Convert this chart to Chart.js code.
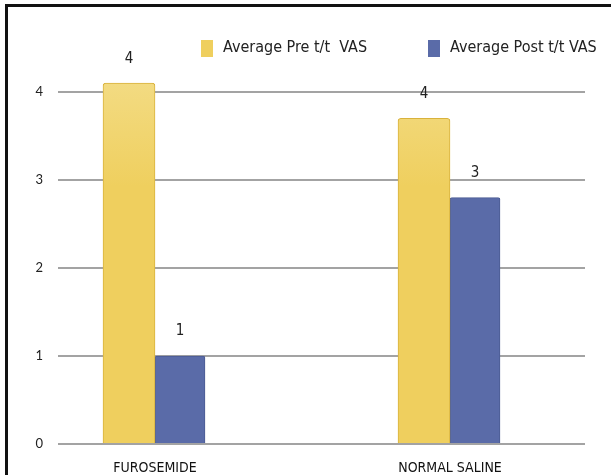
<!DOCTYPE html>
<html>
<head>
<meta charset="utf-8">
<script src="https://cdn.jsdelivr.net/npm/chart.js@4.4.1/dist/chart.umd.min.js"></script>
<style>
  html, body { margin: 0; padding: 0; background: #fff; }
  #wrap { position: relative; width: 611px; height: 475px; }
  #frame { position: absolute; left: 5px; top: 4px; right: 0; bottom: 0;
           border-top: 3px solid #111; border-left: 3px solid #111; pointer-events: none; }
  canvas { position: absolute; left: 0; top: 0; }
</style>
</head>
<body>
<div id="wrap">
  <canvas id="chart" width="611" height="475"></canvas>
  <div id="frame"></div>
</div>
<script>
// Treatment groups and their positions on the x axis
const groups = ['FUROSEMIDE', 'NORMAL SALINE'];
const groupPos = [1, 2];

// Average VAS scores before and after treatment
const preVas = [4.1, 3.7];
const postVas = [1.0, 2.8];

// Value axis ticks
const yTicks = [0, 1, 2, 3, 4];

const seriesNames = ['Average Pre t/t  VAS', 'Average Post t/t VAS'];
const seriesColors = ['#EFCF5E', '#5A6BA8'];
const seriesTops = ['#F4DF8E', '#7887BC'];
const seriesBorders = ['#D9B23C', '#4A5A92'];

const FONT = 'Lato, "Open Sans", sans-serif';
const NARROW = '"Liberation Sans Narrow", "DejaVu Sans Condensed", Lato, sans-serif';

// Light-to-deep vertical fill for the bars
function barFill(i) {
  return ctx => {
    const area = ctx.chart.chartArea;
    if (!area) return seriesColors[i];
    const g = ctx.chart.ctx.createLinearGradient(0, area.top, 0, area.bottom);
    g.addColorStop(0, seriesTops[i]);
    g.addColorStop(0.35, seriesColors[i]);
    g.addColorStop(1, seriesColors[i]);
    return g;
  };
}

// Legend strip drawn across the top
const topLegend = {
  id: 'topLegend',
  afterDraw(chart) {
    const ctx = chart.ctx;
    const boxX = [201, 428];
    ctx.save();
    chart.data.datasets.forEach((ds, i) => {
      ctx.fillStyle = seriesColors[i];
      ctx.fillRect(boxX[i], 40, 12, 17);
      ctx.fillStyle = '#222';
      ctx.font = '16px ' + NARROW;
      ctx.textBaseline = 'middle';
      ctx.textAlign = 'left';
      ctx.fillText(ds.label, boxX[i] + 22, 48);
    });
    ctx.restore();
  }
};

// Rounded value printed above each bar
const barValues = {
  id: 'barValues',
  afterDatasetsDraw(chart) {
    const ctx = chart.ctx;
    ctx.save();
    ctx.font = '15px ' + NARROW;
    ctx.fillStyle = '#222';
    ctx.textAlign = 'center';
    ctx.textBaseline = 'bottom';
    chart.data.datasets.forEach((ds, i) => {
      chart.getDatasetMeta(i).data.forEach((bar, j) => {
        ctx.fillText(String(Math.round(ds.data[j].y)), bar.x, bar.y - 17);
      });
    });
    ctx.restore();
  }
};

const toPoints = vals => vals.map((v, i) => ({ x: groupPos[i], y: v }));

new Chart(document.getElementById('chart'), {
  type: 'bar',
  data: {
    datasets: [
      { label: seriesNames[0], data: toPoints(preVas), backgroundColor: barFill(0),
        borderColor: seriesBorders[0], borderWidth: 1, borderRadius: 3, barThickness: 52 },
      { label: seriesNames[1], data: toPoints(postVas), backgroundColor: barFill(1),
        borderColor: seriesBorders[1], borderWidth: 1, borderRadius: 2, barThickness: 50 }
    ]
  },
  options: {
    responsive: false,
    animation: false,
    layout: { padding: { top: 48, right: 26, bottom: 0, left: 0 } },
    plugins: { legend: { display: false }, tooltip: { enabled: false } },
    scales: {
      x: {
        type: 'linear',
        offset: false,
        min: 0.6712,
        max: 2.4576,
        afterBuildTicks: s => { s.ticks = groupPos.map(v => ({ value: v })); },
        afterFit: s => { s.height = 31; },
        ticks: {
          callback: v => groups[groupPos.indexOf(v)] || '',
          font: { family: NARROW, size: 14 },
          color: '#111',
          padding: 8,
          maxRotation: 0,
          autoSkip: false
        },
        grid: { display: false },
        border: { display: false }
      },
      y: {
        min: 0,
        max: 4.5,
        afterBuildTicks: s => { s.ticks = yTicks.map(v => ({ value: v })); },
        afterFit: s => { s.width = 58; },
        ticks: {
          font: { family: FONT, size: 13 },
          color: '#222',
          padding: 15
        },
        grid: { color: '#A3A3A3', lineWidth: 2, drawTicks: false },
        border: { display: false }
      }
    }
  },
  plugins: [topLegend, barValues]
});
</script>
</body>
</html>
